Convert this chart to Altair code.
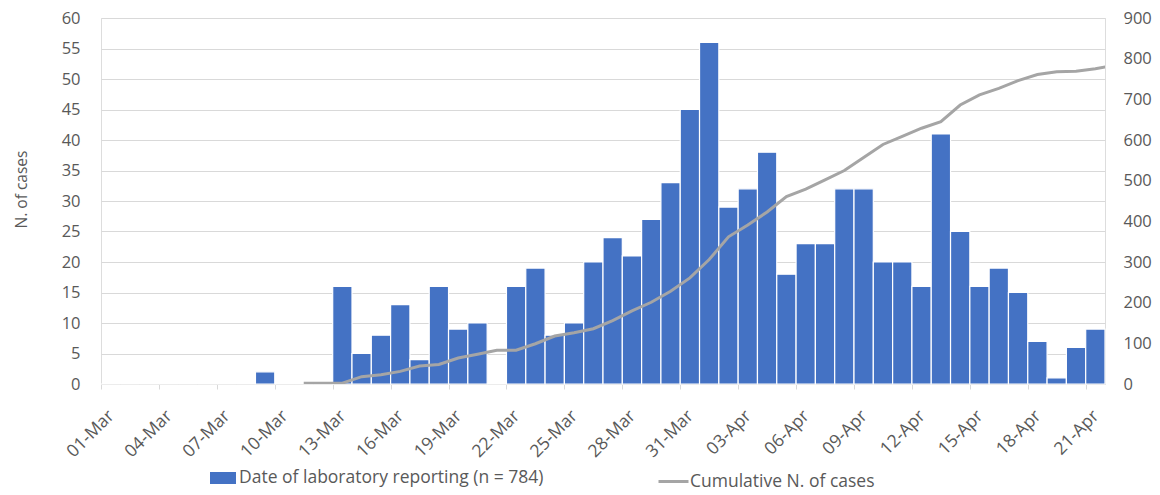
import json
import altair as alt
import pandas as pd

# Daily categories (x axis)
dates = [
    "01-Mar", "02-Mar", "03-Mar", "04-Mar", "05-Mar", "06-Mar", "07-Mar", "08-Mar",
    "09-Mar", "10-Mar", "11-Mar", "12-Mar", "13-Mar", "14-Mar", "15-Mar", "16-Mar",
    "17-Mar", "18-Mar", "19-Mar", "20-Mar", "21-Mar", "22-Mar", "23-Mar", "24-Mar",
    "25-Mar", "26-Mar", "27-Mar", "28-Mar", "29-Mar", "30-Mar", "31-Mar",
    "01-Apr", "02-Apr", "03-Apr", "04-Apr", "05-Apr", "06-Apr", "07-Apr", "08-Apr",
    "09-Apr", "10-Apr", "11-Apr", "12-Apr", "13-Apr", "14-Apr", "15-Apr", "16-Apr",
    "17-Apr", "18-Apr", "19-Apr", "20-Apr", "21-Apr",
]

# Daily cases by date of laboratory reporting (left axis)
cases = [
    0, 0, 0, 0, 0, 0, 0, 0, 2, 0, 0, 0, 16, 5, 8, 13, 4, 16, 9, 10,
    0, 16, 19, 8, 10, 20, 24, 21, 27, 33, 45, 56, 29, 32, 38, 18, 23, 23, 32, 32,
    20, 20, 16, 41, 25, 16, 19, 15, 7, 1, 6, 9,
]

# Cumulative line (right axis); its last point lies past the plotted range
cum_dates = dates[10:] + ["22-Apr"]
cum_cases = [
    2, 2, 2, 18, 23, 31, 44, 48, 64, 73, 83, 83, 99, 118, 126, 136, 156, 180,
    201, 228, 261, 306, 362, 391, 423, 461, 479, 502, 525, 557, 589, 609, 629,
    645, 686, 711, 727, 746, 761, 768, 769, 775, 784,
]

left_ticks = list(range(0, 61, 5))
right_ticks = list(range(0, 901, 100))
x_ticks = list(range(0, len(dates), 3))

bar_label = "Date of laboratory reporting (n = 784)"
line_label = "Cumulative N. of cases"

all_days = dates + ["22-Apr"]
bar_df = pd.DataFrame({"date": dates, "day": list(range(len(dates))), "cases": cases, "series": bar_label})
line_df = pd.DataFrame({
    "date": cum_dates,
    "day": [all_days.index(d) for d in cum_dates],
    "cum": cum_cases,
    "series": line_label,
})

FONT = "Open Sans"
TXT = "#595959"
GRID = "#D9D9D9"

x_scale = alt.Scale(domain=[0, len(dates)], nice=False, zero=False)
x_axis = alt.Axis(
    values=x_ticks,
    labelExpr=json.dumps(all_days) + "[datum.value]",
    labelAngle=-45,
    labelAlign="right",
    labelBaseline="middle",
    labelOffset=10,
    labelPadding=24,
    labelFontSize=17.5,
    labelColor=TXT,
    labelFont=FONT,
    title=None,
    grid=False,
    domainColor=GRID,
    domainWidth=1,
    tickColor=GRID,
    tickSize=5,
    labelOverlap=False,
)

bars = (
    alt.Chart(bar_df)
    .transform_calculate(day_end="datum.day + 1")
    .mark_bar(stroke="white", strokeWidth=1.2)
    .encode(
        x=alt.X("day:Q", scale=x_scale, axis=x_axis),
        x2="day_end:Q",
        y=alt.Y(
            "cases:Q",
            scale=alt.Scale(domain=[0, 60], nice=False),
            axis=alt.Axis(
                values=left_ticks,
                title="N. of cases",
                titleFont=FONT,
                titleFontSize=15.5,
                titleFontWeight="normal",
                titleColor=TXT,
                titleAngle=270,
                titleX=-80,
                titleY=171,
                titleAlign="center",
                titleBaseline="middle",
                grid=True,
                gridColor=GRID,
                gridWidth=1,
                domain=False,
                ticks=False,
                labelPadding=21,
                labelFontSize=16.5,
                labelColor=TXT,
                labelFont=FONT,
            ),
        ),
        y2=alt.datum(0),
        color=alt.Color(
            "series:N",
            scale=alt.Scale(range=["#4472C4"]),
            legend=alt.Legend(
                orient="none",
                legendX=109,
                legendY=447,
                title=None,
                symbolType="M-1,-0.46H1V0.46H-1Z",
                symbolSize=676,
                symbolStrokeWidth=0,
                labelFontSize=17.5,
                labelColor=TXT,
                labelFont=FONT,
                labelOffset=3,
                labelLimit=400,
            ),
        ),
    )
)

line = (
    alt.Chart(line_df)
    .transform_calculate(xm="datum.day + 0.5")
    .mark_line(clip=True, strokeWidth=3)
    .encode(
        x=alt.X("xm:Q", scale=x_scale, axis=x_axis),
        y=alt.Y(
            "cum:Q",
            scale=alt.Scale(domain=[0, 900], nice=False),
            axis=alt.Axis(
                orient="right",
                values=right_ticks,
                title=None,
                grid=False,
                domain=False,
                ticks=False,
                labelPadding=18,
                labelFontSize=16.5,
                labelColor=TXT,
                labelFont=FONT,
            ),
        ),
        stroke=alt.Stroke(
            "series:N",
            scale=alt.Scale(range=["#A5A5A5"]),
            legend=alt.Legend(
                orient="none",
                legendX=556,
                legendY=447,
                title=None,
                symbolType="stroke",
                symbolSize=900,
                symbolStrokeWidth=3,
                labelFontSize=17.5,
                labelColor=TXT,
                labelFont=FONT,
                labelOffset=0,
                labelLimit=400,
            ),
        ),
    )
)

chart = (
    alt.layer(bars, line)
    .resolve_scale(y="independent", color="independent", stroke="independent")
    .properties(
        width=1004,
        height=366,
        padding={"left": 93, "top": 10, "right": 47, "bottom": 103},
        autosize=alt.AutoSizeParams(type="none"),
    )
    .configure_view(stroke=None)
    .configure(font=FONT)
)

chart.save("out.html", embed_options={"renderer": "svg", "actions": False})
